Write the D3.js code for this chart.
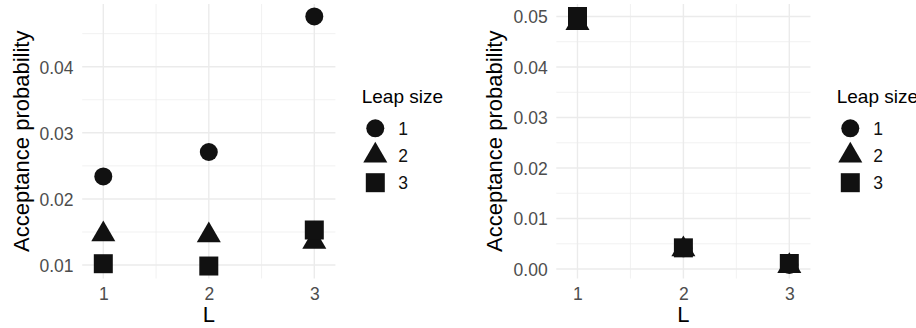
<!DOCTYPE html>
<html>
<head>
<meta charset="utf-8">
<script src="https://cdn.jsdelivr.net/npm/d3@7"></script>
<style>
    body { margin: 0; background: #fff; }
    svg text { font-family: "Liberation Sans", Arial, Helvetica, sans-serif; }
</style>
</head>
<body>
<div id="chart-container"></div>
<script>
// x values (L) and legend labels (leap size)
var L_values = [1, 2, 3];
var x_ticks = [1, 2, 3];
var leap_labels = ["1", "2", "3"];

// left panel: acceptance probability per leap size
var left_leap1 = [0.0234, 0.0271, 0.0476];
var left_leap2 = [0.01465, 0.0145, 0.0135];
var left_leap3 = [0.0102, 0.00985, 0.0153];
var left_y_ticks = [0.01, 0.02, 0.03, 0.04];

// right panel
var right_leap1 = [0.0497, 0.0041, 0.0008];
var right_leap2 = [0.0487, 0.0039, 0.0006];
var right_leap3 = [0.0500, 0.0042, 0.0011];
var right_y_ticks = [0, 0.01, 0.02, 0.03, 0.04, 0.05];

var shapes = [
    d3.symbol().type(d3.symbolCircle).size(254),
    d3.symbol().type(d3.symbolTriangle).size(250),
    d3.symbol().type(d3.symbolSquare).size(361)
];

var svg = d3.select("#chart-container")
    .append("svg")
    .attr("width", 916)
    .attr("height", 328);

function draw_panel(opts) {
    var series = opts.series;
    var all = [].concat.apply([], series);

    // ggplot style 5% expansion of the data range
    var lo = d3.min(all), hi = d3.max(all);
    var pad = (hi - lo) * 0.05;

    var xScale = d3.scaleLinear().domain([0.8, 3.2]).range([opts.left, opts.right]);
    var yScale = d3.scaleLinear().domain([lo - pad, hi + pad]).range([opts.bottom, opts.top]);

    var g = svg.append("g");

    // minor grid lines (half way between breaks)
    var step = opts.yTicks[1] - opts.yTicks[0];
    var yMinor = opts.yTicks.map(d => d - step / 2).concat([opts.yTicks[opts.yTicks.length - 1] + step / 2])
        .filter(d => d > lo - pad && d < hi + pad);
    var xMinor = x_ticks.slice(1).map((d, i) => (d + x_ticks[i]) / 2);

    g.selectAll(".minor-y").data(yMinor).enter().append("line")
        .attr("x1", opts.left).attr("x2", opts.right)
        .attr("y1", d => yScale(d)).attr("y2", d => yScale(d))
        .attr("stroke", "#EBEBEB").attr("stroke-width", 0.7);
    g.selectAll(".minor-x").data(xMinor).enter().append("line")
        .attr("x1", d => xScale(d)).attr("x2", d => xScale(d))
        .attr("y1", opts.top).attr("y2", opts.bottom)
        .attr("stroke", "#EBEBEB").attr("stroke-width", 0.7);

    // major grid lines
    g.selectAll(".major-y").data(opts.yTicks).enter().append("line")
        .attr("x1", opts.left).attr("x2", opts.right)
        .attr("y1", d => yScale(d)).attr("y2", d => yScale(d))
        .attr("stroke", "#EBEBEB").attr("stroke-width", 1.4);
    g.selectAll(".major-x").data(x_ticks).enter().append("line")
        .attr("x1", d => xScale(d)).attr("x2", d => xScale(d))
        .attr("y1", opts.top).attr("y2", opts.bottom)
        .attr("stroke", "#EBEBEB").attr("stroke-width", 1.4);

    // points, leap size 1 first so squares end up on top
    series.forEach(function(values, s) {
        g.selectAll(".pt" + s).data(values).enter().append("path")
            .attr("d", shapes[s])
            .attr("transform", (d, i) => `translate(${xScale(L_values[i])},${yScale(d)})`)
            .attr("fill", "#111");
    });

    // axes
    var yAxis = g.append("g")
        .attr("transform", `translate(${opts.left},0)`)
        .call(d3.axisLeft(yScale).tickValues(opts.yTicks).tickSize(0).tickPadding(8.7).tickFormat(d3.format(".2f")));
    var xAxis = g.append("g")
        .attr("transform", `translate(0,${opts.bottom})`)
        .call(d3.axisBottom(xScale).tickValues(x_ticks).tickSize(0).tickPadding(9).tickFormat(d3.format("d")));
    [yAxis, xAxis].forEach(function(a) {
        a.select(".domain").remove();
        a.selectAll("text")
            .attr("font-size", "17.5px")
            .attr("fill", "#4D4D4D")
            .style("font-family", null);
    });
    yAxis.selectAll("text").attr("dy", "0.36em");

    // axis titles
    g.append("text")
        .attr("x", (opts.left + opts.right) / 2)
        .attr("y", 321.5)
        .attr("text-anchor", "middle")
        .attr("font-size", "22px")
        .attr("fill", "#000")
        .text("L");
    g.append("text")
        .attr("transform", `translate(${opts.titleX},${(opts.top + opts.bottom) / 2}) rotate(-90)`)
        .attr("text-anchor", "middle")
        .attr("font-size", "22px")
        .attr("fill", "#000")
        .text("Acceptance probability");

    // legend
    var lg = g.append("g").attr("transform", `translate(${opts.legendX},0)`);
    lg.append("text")
        .attr("x", 0).attr("y", 103)
        .attr("font-size", "19px")
        .attr("fill", "#000")
        .text("Leap size");
    leap_labels.forEach(function(lab, s) {
        var ky = 128.3 + s * 27.2;
        lg.append("path")
            .attr("d", shapes[s])
            .attr("transform", `translate(13.6,${ky})`)
            .attr("fill", "#111");
        lg.append("text")
            .attr("x", 36.6).attr("y", ky)
            .attr("dy", "0.36em")
            .attr("font-size", "17.5px")
            .attr("fill", "#111")
            .text(lab);
    });
}

draw_panel({
    left: 82.2, right: 335.4, top: 4, bottom: 278.5,
    series: [left_leap1, left_leap2, left_leap3],
    yTicks: left_y_ticks,
    titleX: 29,
    legendX: 361.7
});

draw_panel({
    left: 556.3, right: 810.5, top: 4, bottom: 278.5,
    series: [right_leap1, right_leap2, right_leap3],
    yTicks: right_y_ticks,
    titleX: 502,
    legendX: 836.7
});
</script>
</body>
</html>
